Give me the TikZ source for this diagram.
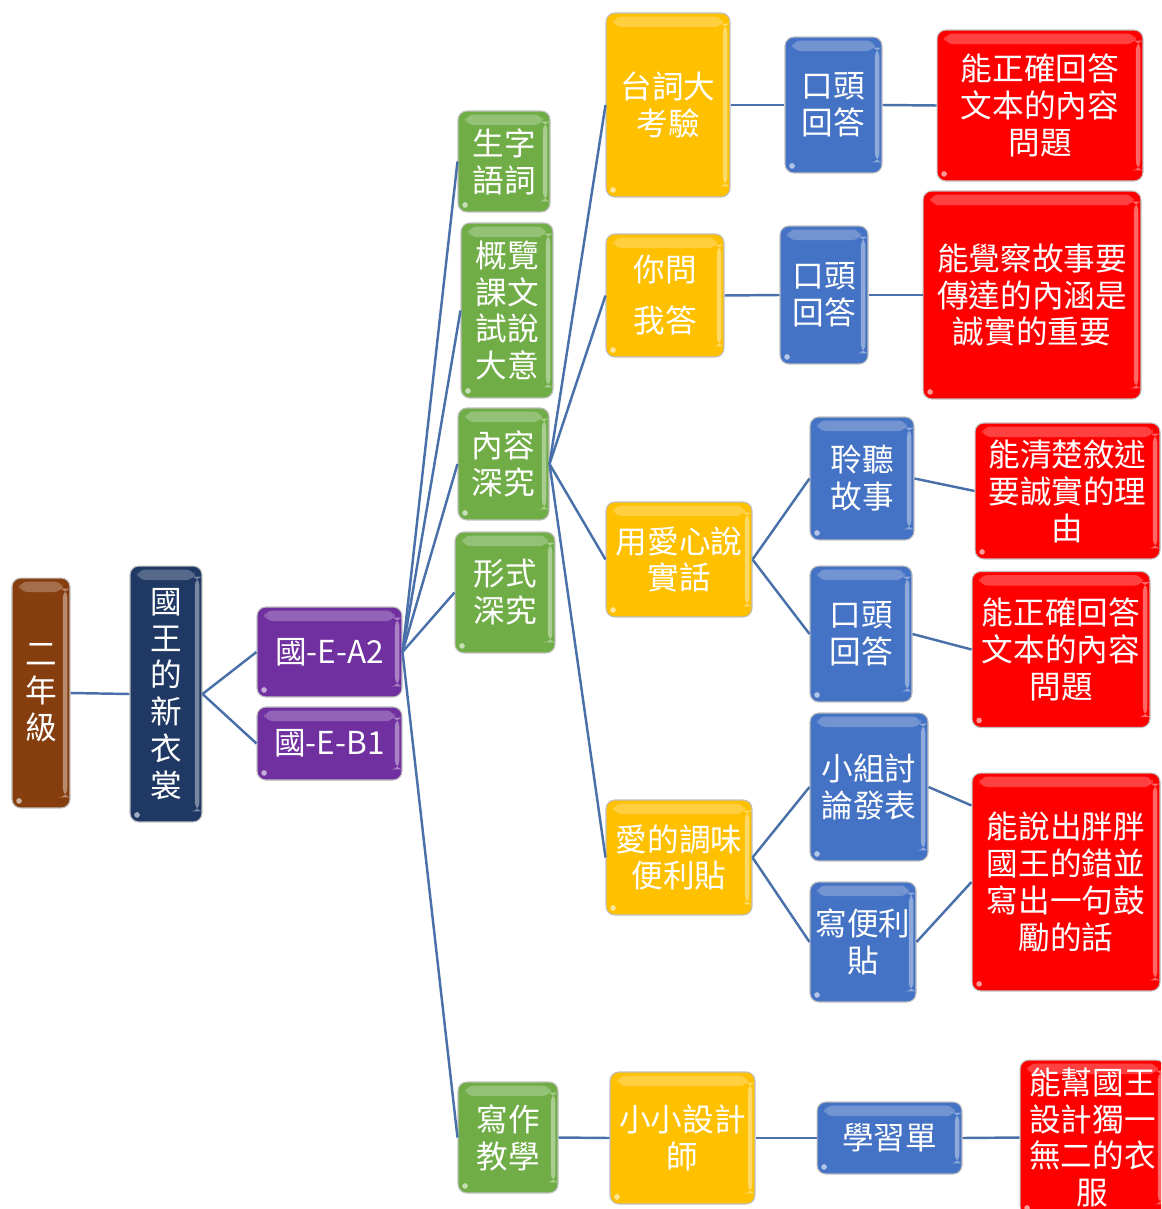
\documentclass[tikz,border=0pt]{standalone}
\usepackage{fontspec}
\newfontfamily\zhfont{Noto Sans CJK TC}
\usepackage{tikz}
\definecolor{brownbox}{RGB}{135,62,15}
\definecolor{navybox}{RGB}{31,56,100}
\definecolor{purplebox}{RGB}{112,48,160}
\definecolor{greenbox}{RGB}{112,173,71}
\definecolor{yellowbox}{RGB}{255,192,0}
\definecolor{bluebox}{RGB}{68,114,196}
\definecolor{redbox}{RGB}{255,0,0}
\definecolor{linkblue}{RGB}{74,112,170}
\tikzset{
  gloss/.style={path picture={
      \fill[white,opacity=.25] ([xshift=4pt,yshift=-2pt]path picture bounding box.north west) rectangle ([xshift=-4pt,yshift=-8pt]path picture bounding box.north east);
      \fill[white,opacity=.4] ([xshift=-4pt,yshift=-6pt]path picture bounding box.north east) rectangle ([xshift=-1.5pt,yshift=6pt]path picture bounding box.south east);
      \fill[white,opacity=.6] ([xshift=4pt,yshift=4pt]path picture bounding box.south west) circle (1.6pt);
  }},
  box/.style={draw=black!25, line width=.6pt, rounded corners=5pt, fill=#1, text=white, align=center,
    font=\zhfont\fontsize{18}{21}\selectfont, inner sep=2pt, gloss},
  link/.style={draw=linkblue, line width=1.4pt},
}

\begin{document}
\begin{tikzpicture}[x=0.02cm, y=-0.02cm]
			%%%%% START %%%%%
			\path[use as bounding box, clip] (0, 0) rectangle (1161, 1209);
			
			\node[box=brownbox, minimum width=1.16cm, minimum height=4.6cm] (grade) at (41, 693) {二\\年\\級};
			\node[box=navybox, minimum width=1.44cm, minimum height=5.12cm] (story) at (166, 694) {國\\王\\的\\新\\衣\\裳};
			
			\node[box=purplebox, minimum width=2.9cm, minimum height=1.8cm] (ea2) at (329.5, 652) {國-E-A2};
			\node[box=purplebox, minimum width=2.9cm, minimum height=1.46cm] (eb1) at (329.5, 743.5) {國-E-B1};
			
			\node[box=greenbox, minimum width=1.84cm, minimum height=2.02cm] (words) at (504, 161.5) {生字\\語詞};
			\node[box=greenbox, minimum width=1.84cm, minimum height=3.5cm] (overview) at (507, 310.5) {概覽\\課文\\試說\\大意};
			\node[box=greenbox, minimum width=1.82cm, minimum height=2.24cm] (content) at (503.5, 464) {內容\\深究};
			\node[box=greenbox, minimum width=2.0cm, minimum height=2.42cm] (form) at (505, 592.5) {形式\\深究};
			\node[box=greenbox, minimum width=2.0cm, minimum height=2.22cm] (writing) at (508, 1137.5) {寫作\\教學};
			
			\node[box=yellowbox, minimum width=2.48cm, minimum height=3.68cm] (lines) at (668, 105) {台詞大\\考驗};
			\node[box=yellowbox, minimum width=2.36cm, minimum height=2.46cm] (askme) at (665, 295.5) {你問\\[8pt]我答};
			\node[box=yellowbox, minimum width=2.92cm, minimum height=2.3cm] (truth) at (679, 559.5) {用愛心說\\實話};
			\node[box=yellowbox, minimum width=2.92cm, minimum height=2.3cm] (notes) at (679, 857.5) {愛的調味\\便利貼};
			\node[box=yellowbox, minimum width=2.9cm, minimum height=2.64cm] (designer) at (682.5, 1138) {小小設計\\師};
			
			\node[box=bluebox, minimum width=1.94cm, minimum height=2.72cm] (oral1) at (833.5, 105) {口頭\\回答};
			\node[box=bluebox, minimum width=1.76cm, minimum height=2.76cm] (oral2) at (824, 295) {口頭\\回答};
			\node[box=bluebox, minimum width=2.08cm, minimum height=2.46cm] (listen) at (862, 478.5) {聆聽\\故事};
			\node[box=bluebox, minimum width=2.04cm, minimum height=2.72cm] (oral3) at (861, 634) {口頭\\回答};
			\node[box=bluebox, minimum width=2.36cm, minimum height=2.96cm] (group) at (869, 787) {小組討\\論發表};
			\node[box=bluebox, minimum width=2.12cm, minimum height=2.4cm] (sticky) at (863, 942) {寫便利\\貼};
			\node[box=bluebox, minimum width=2.9cm, minimum height=1.44cm] (sheet) at (889.5, 1138) {學習單};
			
			\node[box=redbox, minimum width=4.12cm, minimum height=3.02cm] (goal1) at (1040, 105.5) {能正確回答\\文本的內容\\問題};
			\node[box=redbox, minimum width=4.36cm, minimum height=4.16cm] (goal2) at (1032, 295) {能覺察故事要\\傳達的內涵是\\誠實的重要};
			\node[box=redbox, minimum width=3.7cm, minimum height=2.72cm] (goal3) at (1067.5, 491) {能清楚敘述\\要誠實的理\\由};
			\node[box=redbox, minimum width=3.56cm, minimum height=3.12cm] (goal4) at (1061, 649.5) {能正確回答\\文本的內容\\問題};
			\node[box=redbox, minimum width=3.76cm, minimum height=4.36cm] (goal5) at (1066, 882) {能說出胖胖\\國王的錯並\\寫出一句鼓\\勵的話};
			\node[box=redbox, minimum width=2.9cm, minimum height=3.1cm] (goal6) at (1092.5, 1137.5) {能幫國王\\設計獨一\\無二的衣\\服};
			
			\draw[link] (grade.east) -- (story.west);
			\draw[link] (story.east) -- (ea2.west);
			\draw[link] (story.east) -- (eb1.west);
			
			\foreach \n in {words, overview, content, form, writing}
				\draw[link] (ea2.east) -- (\n.west);
			
			\foreach \n in {lines, askme, truth, notes}
				\draw[link] (content.east) -- (\n.west);
			\draw[link] (writing.east) -- (designer.west);
			
			\draw[link] (lines.east) -- (oral1.west);
			\draw[link] (askme.east) -- (oral2.west);
			\draw[link] (truth.east) -- (listen.west);
			\draw[link] (truth.east) -- (oral3.west);
			\draw[link] (notes.east) -- (group.west);
			\draw[link] (notes.east) -- (sticky.west);
			\draw[link] (designer.east) -- (sheet.west);
			
			\draw[link] (oral1.east) -- (goal1.west);
			\draw[link] (oral2.east) -- (goal2.west);
			\draw[link] (listen.east) -- (goal3.west);
			\draw[link] (oral3.east) -- (goal4.west);
			\draw[link] (group.east) -- ([yshift=-0.66cm]goal5.north west);
			\draw[link] (sticky.east) -- (goal5.west);
			\draw[link] (sheet.east) -- (goal6.west);
			
			%%%%% END %%%%%
\end{tikzpicture}
\end{document}
